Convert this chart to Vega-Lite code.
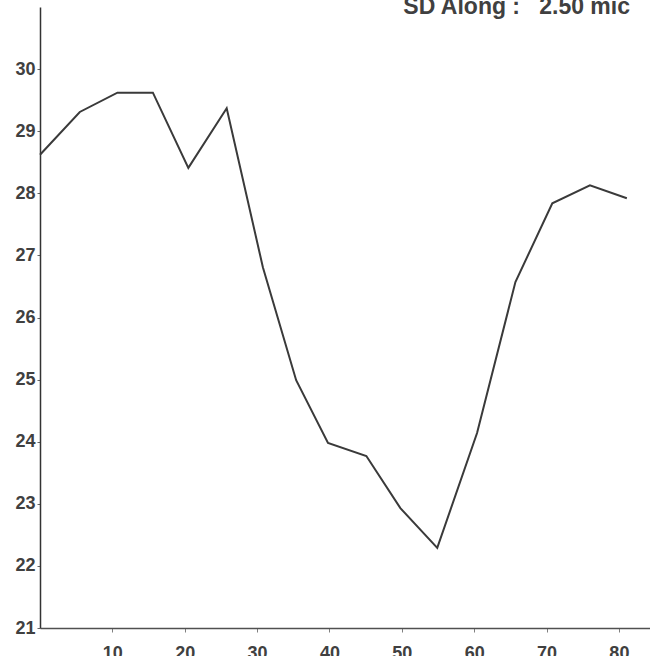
{
  "$schema": "https://vega.github.io/schema/vega-lite/v6.json",
  "autosize": "none",
  "width": 610,
  "height": 621,
  "padding": {"left": 40, "top": 7, "right": 0, "bottom": 28},
  "background": "white",
  "title": {
    "text": "SD Along :\u00a0\u00a0\u00a02.50 mic",
    "anchor": "end",
    "frame": "group",
    "orient": "top",
    "offset": -30,
    "dx": -20,
    "baseline": "alphabetic",
    "font": "Liberation Sans",
    "fontSize": 23,
    "fontWeight": "bold",
    "color": "#404040"
  },
  "config": {
    "view": {"stroke": null},
    "axis": {
      "grid": false,
      "labelFont": "Liberation Sans",
      "labelFontWeight": "bold",
      "labelFontSize": 18,
      "labelColor": "#404040",
      "title": null
    }
  },
  "data": {
    "values": [
      {"pos": 0.0, "val": 28.62},
      {"pos": 5.5, "val": 29.31},
      {"pos": 10.7, "val": 29.62},
      {"pos": 15.6, "val": 29.62},
      {"pos": 20.5, "val": 28.41},
      {"pos": 25.8, "val": 29.37},
      {"pos": 30.8, "val": 26.81},
      {"pos": 35.4, "val": 24.99},
      {"pos": 39.8, "val": 23.98},
      {"pos": 45.1, "val": 23.77},
      {"pos": 49.8, "val": 22.93},
      {"pos": 54.9, "val": 22.29},
      {"pos": 60.4, "val": 24.14},
      {"pos": 65.7, "val": 26.57},
      {"pos": 70.8, "val": 27.84},
      {"pos": 76.0, "val": 28.13},
      {"pos": 81.1, "val": 27.92}
    ]
  },
  "mark": {"type": "line", "color": "#3a3a3a", "strokeWidth": 2},
  "encoding": {
    "x": {
      "field": "pos",
      "type": "quantitative",
      "scale": {"domain": [0, 84.3], "nice": false, "zero": false},
      "axis": {
        "values": [10, 20, 30, 40, 50, 60, 70, 80],
        "domainColor": "#505050",
        "domainWidth": 1.5,
        "tickColor": "#808080",
        "tickSize": 4,
        "labelPadding": 12,
        "labelBaseline": "top"
      }
    },
    "y": {
      "field": "val",
      "type": "quantitative",
      "scale": {"domain": [21, 31], "nice": false, "zero": false},
      "axis": {
        "values": [21, 22, 23, 24, 25, 26, 27, 28, 29, 30],
        "domainColor": "#333333",
        "domainWidth": 1.5,
        "tickColor": "#666666",
        "tickSize": 3,
        "labelPadding": 2
      }
    }
  }
}
